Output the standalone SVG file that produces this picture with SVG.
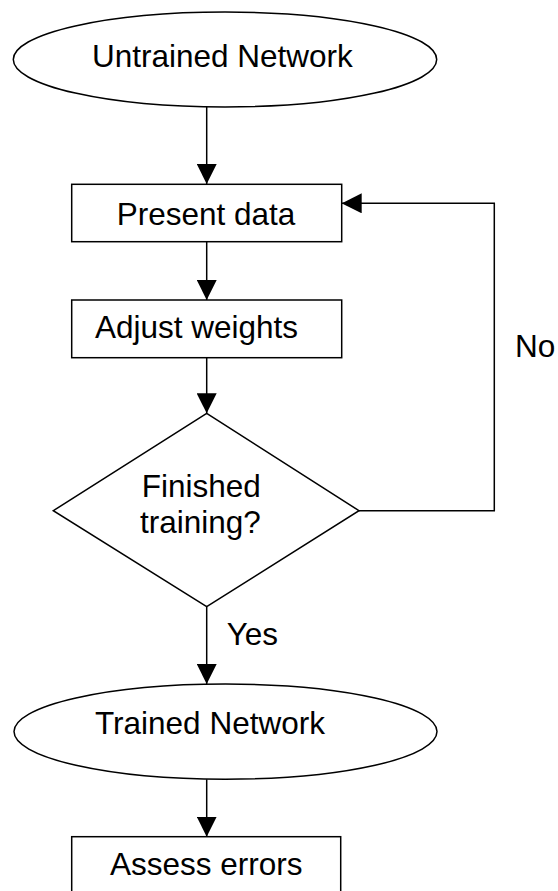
<svg xmlns="http://www.w3.org/2000/svg" width="558" height="891" viewBox="0 0 558 891">
  <defs>
    <marker id="arrow" viewBox="0 0 20 20" refX="20" refY="10" markerWidth="20" markerHeight="20" markerUnits="userSpaceOnUse" orient="auto">
      <path d="M0,0 L20,10 L0,20 z" fill="#000"/>
    </marker>
    <style>
      .shape { fill: #fff; stroke: #000; stroke-width: 1.5; }
      .label { font-family: "Liberation Sans", Arial, sans-serif; font-size: 31.5px; fill: #000; }
      .conn { fill: none; stroke: #000; stroke-width: 1.5; marker-end: url(#arrow); }
    </style>
  </defs>
  <rect width="558" height="891" fill="#fff"/>

  <!-- connectors -->
  <g id="connectors">
    <line class="conn" x1="206.7" y1="107" x2="206.7" y2="184"/>
    <line class="conn" x1="206.7" y1="241.7" x2="206.7" y2="300"/>
    <line class="conn" x1="206.7" y1="357.7" x2="206.7" y2="413.3"/>
    <line class="conn" x1="206.7" y1="606.7" x2="206.7" y2="684"/>
    <line class="conn" x1="206.7" y1="779.3" x2="206.7" y2="836.7"/>
    <polyline class="conn" points="359,510.7 494.3,510.7 494.3,203.3 341.7,203.3"/>
    <text class="label" x="515" y="356.7">No</text>
    <text class="label" x="226.7" y="645">Yes</text>
  </g>

  <g id="untrained-network">
    <ellipse class="shape" cx="225" cy="59.5" rx="211.7" ry="47.5"/>
    <text class="label" x="92" y="67">Untrained Network</text>
  </g>

  <g id="present-data">
    <rect class="shape" x="71.7" y="184.3" width="270" height="57.4"/>
    <text class="label" x="116.7" y="225">Present data</text>
  </g>

  <g id="adjust-weights">
    <rect class="shape" x="71.7" y="300" width="270" height="57.7"/>
    <text class="label" x="95" y="338">Adjust weights</text>
  </g>

  <g id="finished-training">
    <polygon class="shape" points="206.7,413.3 359,510.7 206.7,606.7 53.3,510.7"/>
    <text class="label" x="141.7" y="496.7">Finished</text>
    <text class="label" x="140" y="533">training?</text>
  </g>

  <g id="trained-network">
    <ellipse class="shape" cx="225.5" cy="731.6" rx="211.5" ry="47.6"/>
    <text class="label" x="95" y="734.3">Trained Network</text>
  </g>

  <g id="assess-errors">
    <rect class="shape" x="71.7" y="836.7" width="269" height="70"/>
    <text class="label" x="110" y="875">Assess errors</text>
  </g>
</svg>
